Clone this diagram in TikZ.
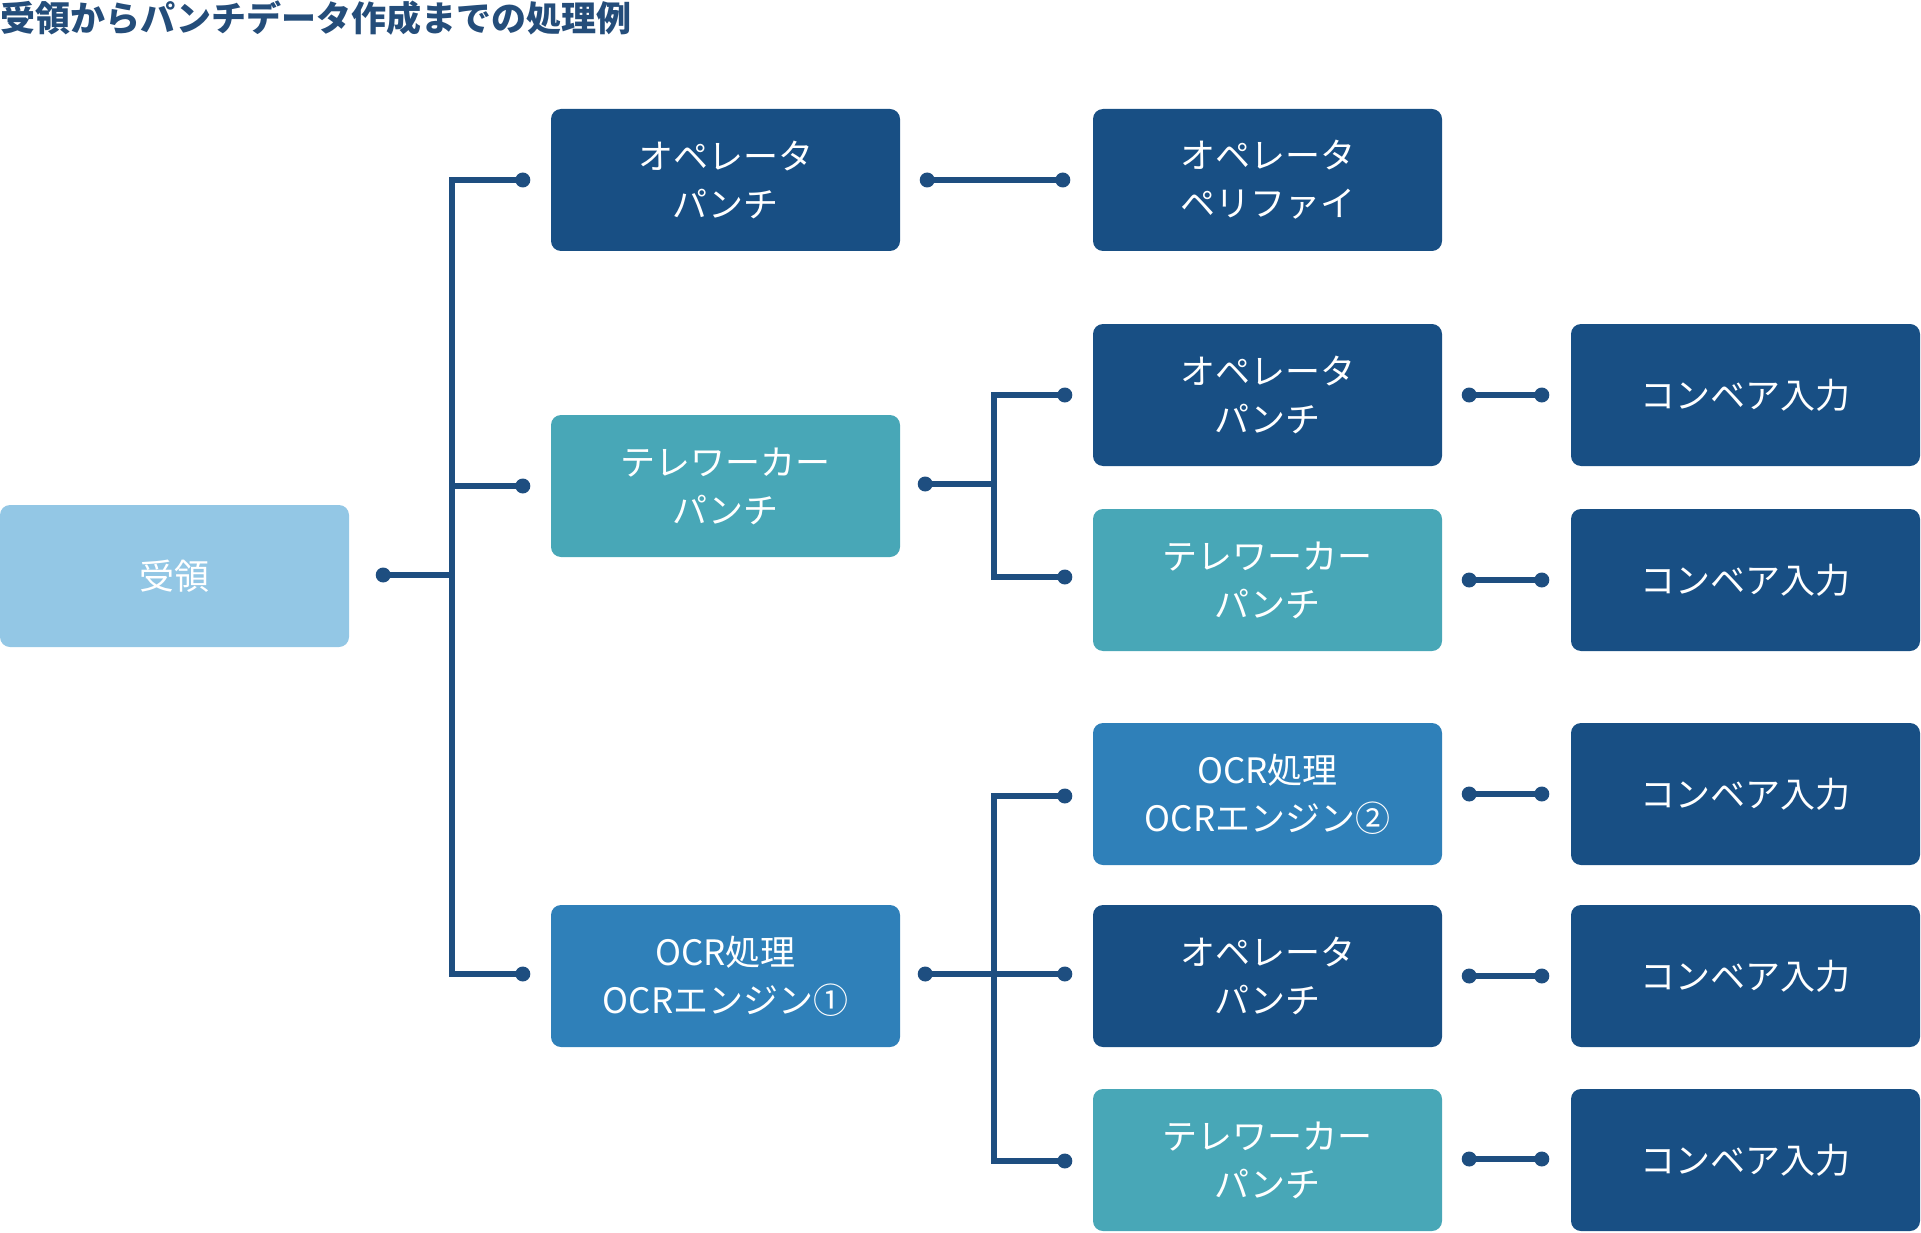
\documentclass[tikz,border=0pt]{standalone}
\usepackage{fontspec}
\setmainfont{Noto Sans CJK JP}
\definecolor{navy}{HTML}{184F84}
\definecolor{teal}{HTML}{48A7B7}
\definecolor{lightb}{HTML}{93C7E5}
\definecolor{midb}{HTML}{2F80B9}
\definecolor{linec}{HTML}{1E4E80}
\definecolor{titlec}{HTML}{244D7A}
\begin{document}
\begin{tikzpicture}[x=1pt,y=-1pt,
  box/.style={rounded corners=10pt, minimum width=349pt, minimum height=142pt,
    text=white, font=\fontsize{35}{48}\selectfont, align=center, inner sep=0pt},
  darkbox/.style={box, fill=navy},
  tealbox/.style={box, fill=teal},
  lightbox/.style={box, fill=lightb},
  midbox/.style={box, fill=midb},
  conn/.style={draw=linec, line width=6pt, line join=miter},
  dotc/.style={fill=linec}
]
\useasboundingbox (0,0) rectangle (1921,1233);
\node[anchor=base west, inner sep=0pt, text=titlec, font=\fontsize{35}{38}\selectfont\bfseries] (title) at (0,32) {受領からパンチデータ作成までの処理例};

% nodes
\node[lightbox] (ju) at (174.5,576) {受領};
\node[darkbox] (a1) at (725.5,180) {オペレータ\\パンチ};
\node[tealbox] (a2) at (725.5,486) {テレワーカー\\パンチ};
\node[midbox] (a3) at (725.5,976) {OCR処理\\OCRエンジン①};
\node[darkbox] (b1) at (1267.5,180) {オペレータ\\ペリファイ};
\node[darkbox] (b2) at (1267.5,395) {オペレータ\\パンチ};
\node[tealbox] (b3) at (1267.5,580) {テレワーカー\\パンチ};
\node[midbox] (b4) at (1267.5,794) {OCR処理\\OCRエンジン②};
\node[darkbox] (b5) at (1267.5,976) {オペレータ\\パンチ};
\node[tealbox] (b6) at (1267.5,1160) {テレワーカー\\パンチ};
\node[darkbox] (c2) at (1745.5,395) {コンベア入力};
\node[darkbox] (c3) at (1745.5,580) {コンベア入力};
\node[darkbox] (c4) at (1745.5,794) {コンベア入力};
\node[darkbox] (c5) at (1745.5,976) {コンベア入力};
\node[darkbox] (c6) at (1745.5,1160) {コンベア入力};

% connector end points
\coordinate (ju-o) at ([xshift=34pt,yshift=1pt]ju.east);
\coordinate (a1-i) at ([xshift=-28pt]a1.west);
\coordinate (a2-i) at ([xshift=-28pt]a2.west);
\coordinate (a3-i) at ([xshift=-28pt,yshift=2pt]a3.west);
\coordinate (a1-o) at ([xshift=27pt]a1.east);
\coordinate (a2-o) at ([xshift=25pt,yshift=2pt]a2.east);
\coordinate (a3-o) at ([xshift=25pt,yshift=2pt]a3.east);
\coordinate (b1-i) at ([xshift=-30pt]b1.west);
\coordinate (b2-i) at ([xshift=-28pt]b2.west);
\coordinate (b3-i) at ([xshift=-28pt,yshift=3pt]b3.west);
\coordinate (b4-i) at ([xshift=-28pt,yshift=-2pt]b4.west);
\coordinate (b5-i) at ([xshift=-28pt,yshift=2pt]b5.west);
\coordinate (b6-i) at ([xshift=-28pt,yshift=-1pt]b6.west);
\coordinate (trunkA) at (452,0);
\coordinate (trunkB) at (994,0);

% level 1 trunk
\draw[conn] (ju-o) -- (ju-o -| trunkA);
\draw[conn] (a1-i) -- (a1-i -| trunkA) -- (a3-i -| trunkA) -- (a3-i);
\draw[conn] (a2-i -| trunkA) -- (a2-i);
% row 1
\draw[conn] (a1-o) -- (b1-i);
% telework branch
\draw[conn] (a2-o) -- (a2-o -| trunkB);
\draw[conn] (b2-i) -- (b2-i -| trunkB) -- (b3-i -| trunkB) -- (b3-i);
% OCR branch
\draw[conn] (a3-o) -- (b5-i);
\draw[conn] (b4-i) -- (b4-i -| trunkB) -- (b6-i -| trunkB) -- (b6-i);

% level 3 connectors
\foreach \i/\dy in {2/0,3/0,4/0,5/0,6/1}{
  \coordinate (b\i-o) at ([xshift=27pt,yshift=\dy pt]b\i.east);
  \coordinate (c\i-i) at ([xshift=-29pt,yshift=\dy pt]c\i.west);
  \draw[conn] (b\i-o) -- (c\i-i);
  \fill[dotc] (b\i-o) circle (7.5pt);
  \fill[dotc] (c\i-i) circle (7.5pt);
}

% dots
\foreach \p in {ju-o,a1-i,a2-i,a3-i,a1-o,a2-o,a3-o,b1-i,b2-i,b3-i,b4-i,b5-i,b6-i}{
  \fill[dotc] (\p) circle (7.5pt);
}
\end{tikzpicture}
\end{document}
